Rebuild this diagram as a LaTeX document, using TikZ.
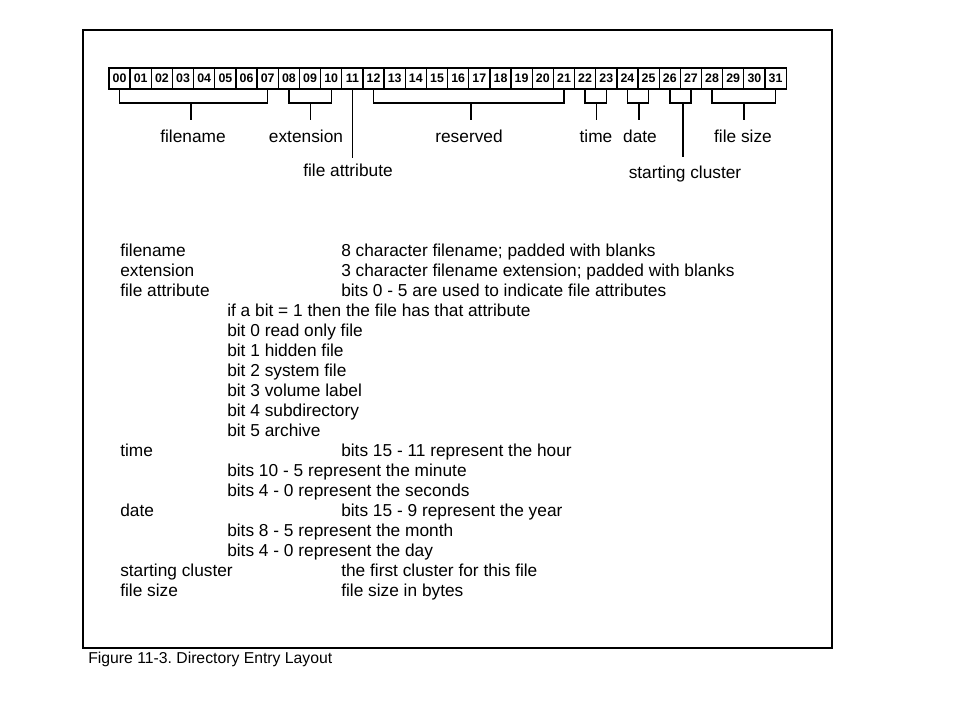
\documentclass[tikz,border=0pt]{standalone}
\usepackage{fontspec}
\setmainfont{Liberation Sans}
\frenchspacing
\begin{document}
\begin{tikzpicture}[
    x=0.025cm, y=-0.025cm,
    every node/.style={font=\fontsize{12.3}{14}\selectfont, inner sep=0pt},
    bitcell/.style={draw, line width=0.9pt, minimum width=0.529cm, minimum height=0.525cm, font=\fontsize{8.8}{10}\selectfont\bfseries},
    fieldlabel/.style={anchor=base},
    keytext/.style={anchor=base west},
    desctext/.style={anchor=base west},
    brace/.style={line width=1pt},
    stem/.style={line width=1pt, shorten >=7.4pt},
]
\useasboundingbox (0,0) rectangle (960,720);

% Frame
\draw[line width=1.4pt] (83,30) rectangle (832,648);

% Bit cells
\node[bitcell] (b00) at (119.6,78.5) {00};
\node[bitcell] (b01) at (140.7,78.5) {01};
\node[bitcell] (b02) at (161.9,78.5) {02};
\node[bitcell] (b03) at (183.1,78.5) {03};
\node[bitcell] (b04) at (204.2,78.5) {04};
\node[bitcell] (b05) at (225.4,78.5) {05};
\node[bitcell] (b06) at (246.6,78.5) {06};
\node[bitcell] (b07) at (267.7,78.5) {07};
\node[bitcell] (b08) at (288.9,78.5) {08};
\node[bitcell] (b09) at (310.0,78.5) {09};
\node[bitcell] (b10) at (331.2,78.5) {10};
\node[bitcell] (b11) at (352.4,78.5) {11};
\node[bitcell] (b12) at (373.5,78.5) {12};
\node[bitcell] (b13) at (394.7,78.5) {13};
\node[bitcell] (b14) at (415.8,78.5) {14};
\node[bitcell] (b15) at (437.0,78.5) {15};
\node[bitcell] (b16) at (458.2,78.5) {16};
\node[bitcell] (b17) at (479.3,78.5) {17};
\node[bitcell] (b18) at (500.5,78.5) {18};
\node[bitcell] (b19) at (521.6,78.5) {19};
\node[bitcell] (b20) at (542.8,78.5) {20};
\node[bitcell] (b21) at (564.0,78.5) {21};
\node[bitcell] (b22) at (585.1,78.5) {22};
\node[bitcell] (b23) at (606.3,78.5) {23};
\node[bitcell] (b24) at (627.4,78.5) {24};
\node[bitcell] (b25) at (648.6,78.5) {25};
\node[bitcell] (b26) at (669.8,78.5) {26};
\node[bitcell] (b27) at (690.9,78.5) {27};
\node[bitcell] (b28) at (712.1,78.5) {28};
\node[bitcell] (b29) at (733.2,78.5) {29};
\node[bitcell] (b30) at (754.4,78.5) {30};
\node[bitcell] (b31) at (775.6,78.5) {31};

% Field labels
\node[fieldlabel] (lname)  at (193,143) {filename};
\node[fieldlabel] (lext)   at (306,143) {extension};
\node[fieldlabel] (lres)   at (469,143) {reserved};
\node[fieldlabel] (ltime)  at (596,143) {time};
\node[fieldlabel] (ldate)  at (640,143) {date};
\node[fieldlabel] (lsize)  at (743,143) {file size};
\node[fieldlabel] (lattr)  at (348,177) {file attribute};
\node[fieldlabel] (lstart) at (685,179) {starting cluster};

% Brackets
\coordinate (namebar)  at (191,103);
\coordinate (extbar)   at (310.5,103);
\coordinate (resbar)   at (471,103);
\coordinate (timebar)  at (596.5,103);
\coordinate (datebar)  at (639,103);
\coordinate (startbar) at (683,103);
\coordinate (sizebar)  at (744,103);

\draw[brace] (b00.south) |- (namebar) -| (b07.south);
\draw[brace] (b08.south) |- (extbar) -| (b10.south);
\draw[brace] (b12.south) |- (resbar) -| (b21.south);
\draw[brace] (b22.south) |- (timebar) -| (b23.south);
\draw[brace] (b24.south) |- (datebar) -| (b25.south);
\draw[brace] (b26.south) |- (startbar) -| (b27.south);
\draw[brace] (b28.south) |- (sizebar) -| (b31.south);

% Stems
\draw[stem] (namebar) -- (namebar |- lname.north);
\draw[stem] (extbar) -- (extbar |- lext.north);
\draw[stem] (resbar) -- (resbar |- lres.north);
\draw[stem] (timebar) -- (timebar |- ltime.north);
\draw[stem] (datebar) -- (datebar |- ldate.north);
\draw[stem] (sizebar) -- (sizebar |- lsize.north);
\draw[stem, shorten >=4.3pt] (b11.south) -- (b11.south |- lattr.north);
\draw[stem, shorten >=6.7pt] (startbar) -- (startbar |- lstart.north);

% Description table
\node[keytext]  (kname)  at (120,256.7) {filename};
\node[desctext] (dname)  at (341,256.7) {8 character filename; padded with blanks};
\node[keytext]  (kext)   at (120,276.7) {extension};
\node[desctext] (dext)   at (341,276.7) {3 character filename extension; padded with blanks};
\node[keytext]  (kattr)  at (120,296.7) {file attribute};
\node[desctext] (dattr)  at (341,296.7) {bits 0 - 5 are used to indicate file attributes};
\node[desctext] (dattr1) at (227,316.7) {if a bit = 1 then the file has that attribute};
\node[desctext] (dattr2) at (227,336.7) {bit 0 read only file};
\node[desctext] (dattr3) at (227,356.7) {bit 1 hidden file};
\node[desctext] (dattr4) at (227,376.7) {bit 2 system file};
\node[desctext] (dattr5) at (227,396.7) {bit 3 volume label};
\node[desctext] (dattr6) at (227,416.7) {bit 4 subdirectory};
\node[desctext] (dattr7) at (227,436.7) {bit 5 archive};
\node[keytext]  (ktime)  at (120,456.7) {time};
\node[desctext] (dtime)  at (341,456.7) {bits 15 - 11 represent the hour};
\node[desctext] (dtime1) at (227,476.7) {bits 10 - 5 represent the minute};
\node[desctext] (dtime2) at (227,496.7) {bits 4 - 0 represent the seconds};
\node[keytext]  (kdate)  at (120,516.7) {date};
\node[desctext] (ddate)  at (341,516.7) {bits 15 - 9 represent the year};
\node[desctext] (ddate1) at (227,536.7) {bits 8 - 5 represent the month};
\node[desctext] (ddate2) at (227,556.7) {bits 4 - 0 represent the day};
\node[keytext]  (kstart) at (120,576.7) {starting cluster};
\node[desctext] (dstart) at (341,576.7) {the first cluster for this file};
\node[keytext]  (ksize)  at (120,596.7) {file size};
\node[desctext] (dsize)  at (341,596.7) {file size in bytes};

% Caption
\node[anchor=base west, font=\fontsize{11.2}{13}\selectfont] (caption) at (88,663) {Figure 11-3. Directory Entry Layout};

\end{tikzpicture}
\end{document}
